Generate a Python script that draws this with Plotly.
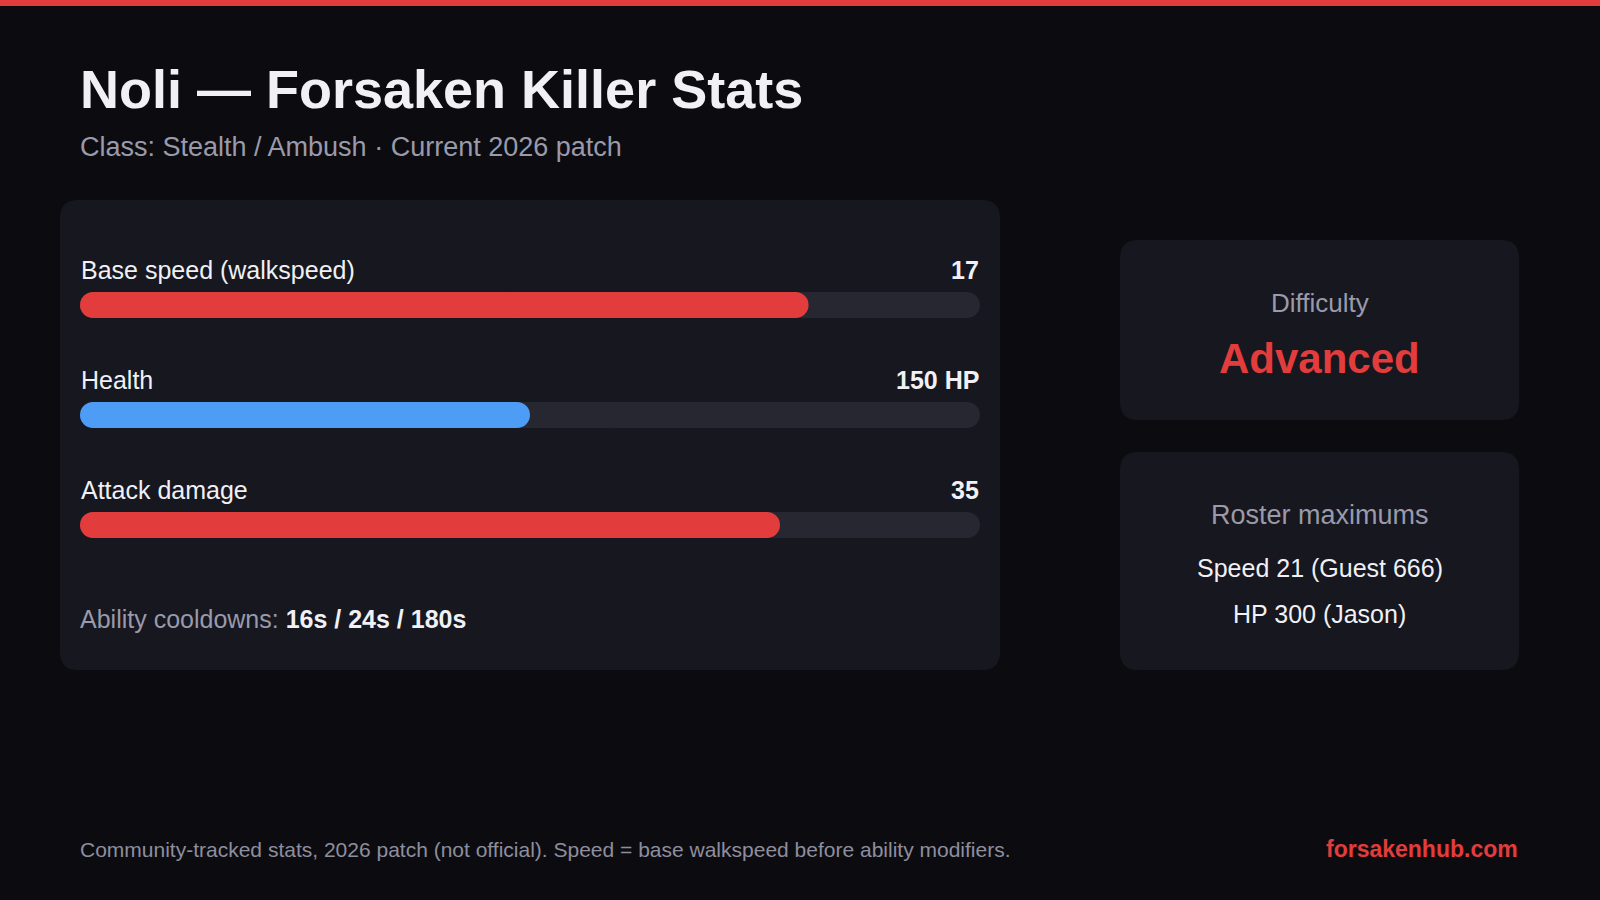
import plotly.graph_objects as go

# ---------------- data ----------------
stat_labels = ["Base speed (walkspeed)", "Health", "Attack damage"]
stat_values = [17, 150, 35]
stat_units = ["", " HP", ""]
stat_max = [21, 300, 45]
bar_colors = ["#e23c3c", "#4d9cf6", "#e23c3c"]
cooldowns = ["16s", "24s", "180s"]
difficulty_label = "Difficulty"
difficulty_value = "Advanced"
roster_title = "Roster maximums"
roster_lines = ["Speed 21 (Guest 666)", "HP 300 (Jason)"]
title_text = "Noli — Forsaken Killer Stats"
subtitle_text = "Class: Stealth / Ambush · Current 2026 patch"
footer_text = "Community-tracked stats, 2026 patch (not official). Speed = base walkspeed before ability modifiers."
brand_text = "forsakenhub.com"

# ---------------- style ----------------
W, H = 1600, 900
BG = "#0c0c10"
PANEL = "#16171f"
TRACK = "#262730"
RED = "#e23c3c"
WHITE = "#f0f0f5"
GREY = "#9a9aab"
FONT = "Liberation Sans, Arial, Helvetica, sans-serif"
ROW_PX = 110.0
BAR_PX = 26.0


def px(x):
    return x / W


def py(y):
    return 1 - y / H


def rrect(x0, y0, x1, y1, r):
    pts = [
        ("M", [(x0 + r, y0)]), ("L", [(x1 - r, y0)]), ("Q", [(x1, y0), (x1, y0 + r)]),
        ("L", [(x1, y1 - r)]), ("Q", [(x1, y1), (x1 - r, y1)]),
        ("L", [(x0 + r, y1)]), ("Q", [(x0, y1), (x0, y1 - r)]),
        ("L", [(x0, y0 + r)]), ("Q", [(x0, y0), (x0 + r, y0)]),
    ]
    s = ""
    for cmd, ps in pts:
        s += cmd + " " + " ".join(f"{px(a):.5f},{py(b):.5f}" for a, b in ps) + " "
    return s + "Z"


fig = go.Figure()

n = len(stat_labels)
rows = list(range(n))
fracs = [v / m for v, m in zip(stat_values, stat_max)]
bw = BAR_PX / ROW_PX


def pill(ys, f, color, name):
    # right half (rounded at right end)
    fig.add_trace(go.Bar(
        y=ys, x=[0.6 * v for v in f], base=[0.4 * v for v in f], orientation="h",
        width=bw, marker=dict(color=color, cornerradius=13, line=dict(width=0)),
        hoverinfo="skip", showlegend=False, name=name))
    # left half (rounded at left end)
    fig.add_trace(go.Bar(
        y=ys, x=[-0.6 * v for v in f], base=[0.6 * v for v in f], orientation="h",
        width=bw, marker=dict(color=color, cornerradius=13, line=dict(width=0)),
        hoverinfo="skip", showlegend=False, name=name))


pill(rows, [1.0] * n, TRACK, "track")
for i in rows:
    pill([i], [fracs[i]], bar_colors[i], stat_labels[i])

shapes = [
    dict(type="rect", xref="paper", yref="paper", x0=0, x1=1, y0=py(6), y1=1,
         fillcolor=RED, line=dict(width=0), layer="below"),
    dict(type="path", xref="paper", yref="paper", path=rrect(60, 200, 1000, 670, 18),
         fillcolor=PANEL, line=dict(width=0), layer="below"),
    dict(type="path", xref="paper", yref="paper", path=rrect(1120, 240, 1519, 420, 18),
         fillcolor=PANEL, line=dict(width=0), layer="below"),
    dict(type="path", xref="paper", yref="paper", path=rrect(1120, 452, 1519, 670, 18),
         fillcolor=PANEL, line=dict(width=0), layer="below"),
]

ann = []


def text(x, y, t, size, color, xanchor="left", bold=False, xref="paper", yref="paper", yshift=0):
    ann.append(dict(x=x, y=y, xref=xref, yref=yref, text=(f"<b>{t}</b>" if bold else t),
                    showarrow=False, xanchor=xanchor, yanchor="middle", yshift=yshift,
                    font=dict(family=FONT, size=size, color=color), borderpad=0))


text(px(79), py(108 - 0.35 * 54), title_text, 54, WHITE, bold=True)
text(px(79), py(156 - 0.35 * 27), subtitle_text, 27, GREY)

for i in rows:
    text(0, i, stat_labels[i], 25, WHITE, xref="x", yref="y", yshift=35.5)
    text(1, i, f"{stat_values[i]}{stat_units[i]}", 25, WHITE, xanchor="right", bold=True,
         xref="x", yref="y", yshift=35.5)

cd = " / ".join(cooldowns)
text(px(79), py(627.7 - 0.35 * 25),
     f"Ability cooldowns: <span style='color:{WHITE}'><b>{cd}</b></span>", 25, GREY)

cx = px(1319.5)
text(cx, py(311.7 - 0.35 * 26), difficulty_label, 26, GREY, xanchor="center")
text(cx, py(372.7 - 0.35 * 42), difficulty_value, 42, RED, xanchor="center", bold=True)
text(cx, py(524 - 0.35 * 27), roster_title, 27, GREY, xanchor="center")
for j, line in enumerate(roster_lines):
    text(cx, py(576.7 + 45.6 * j - 0.35 * 25), line, 25, WHITE, xanchor="center")

text(px(79), py(857.3 - 0.35 * 21), footer_text, 21, "#8e8e9e")
text(px(1519), py(857.3 - 0.35 * 23), brand_text, 23, RED, xanchor="right", bold=True)

fig.update_layout(
    width=W, height=H, margin=dict(l=0, r=0, t=0, b=0),
    paper_bgcolor=BG, plot_bgcolor="rgba(0,0,0,0)",
    barmode="overlay", showlegend=False, shapes=shapes, annotations=ann,
    xaxis=dict(domain=[px(80), px(980)], range=[0, 1], visible=False, fixedrange=True),
    yaxis=dict(domain=[py(580), py(250)], range=[n - 0.5, -0.5], visible=False, fixedrange=True),
    font=dict(family=FONT),
)

fig.write_html(
    "out.html",
    config={"displayModeBar": False},
    post_script="document.body.style.margin='0';document.body.style.overflow='hidden';"
                "document.body.style.background='" + BG + "';",
)
